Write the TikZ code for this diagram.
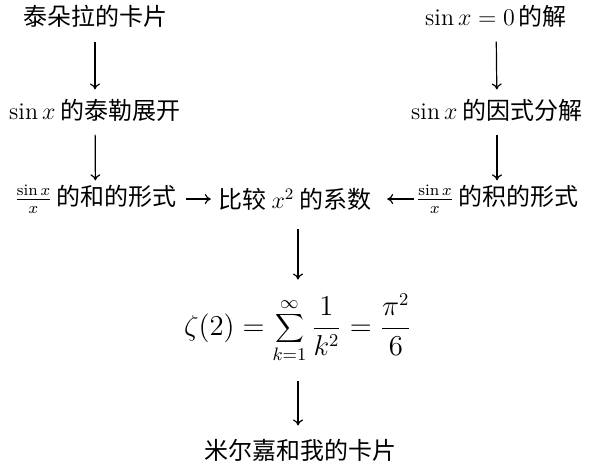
\documentclass[tikz,border=0pt]{standalone}
\usepackage{fontspec}
\newfontfamily\cjk{Noto Sans CJK SC}
\usetikzlibrary{arrows.meta}
\begin{document}
\begin{tikzpicture}[x=0.5pt,y=-0.5pt,
  lbl/.style={inner sep=0pt, font=\cjk\fontsize{12}{14}\selectfont},
  arr/.style={-{To[length=3pt,width=5pt]}, line width=0.6pt}]
\useasboundingbox (0,0) rectangle (597,468);
\node[lbl] (taylorcard) at (95,16) {泰朵拉的卡片};
\node[lbl] (zeros) at (496,16) {$\sin x=0$\,的解};
\node[lbl] (taylor) at (95,110) {$\sin x$ 的泰勒展开};
\node[lbl] (factor) at (497,110) {$\sin x$ 的因式分解};
\node[lbl] (sumform) at (95.5,199) {$\frac{\sin x}{x}$\,的和的形式};
\node[lbl] (compare) at (295,199) {比较 $x^2$ 的系数};
\node[lbl] (prodform) at (497,199) {$\frac{\sin x}{x}$\,的积的形式};
\node[lbl, font=\fontsize{13.5}{16}\selectfont] (zeta) at (298,328) {$\displaystyle \zeta(2)=\sum_{k=1}^{\infty}\frac{1}{k^2}=\frac{\pi^2}{6}$};
\node[lbl] (mcard) at (300,450) {米尔嘉和我的卡片};
\draw[arr, shorten <=7pt, shorten >=4.5pt] (taylorcard) -- (taylor);
\draw[arr, shorten <=6.5pt, shorten >=2pt] (taylor) -- (sumform);
\draw[arr, shorten <=7pt, shorten >=4.5pt] (zeros) -- (factor);
\draw[arr, shorten <=6.5pt, shorten >=2pt] (factor) -- (prodform);
\draw[arr, shorten <=4.5pt, shorten >=3.5pt] (sumform) -- (compare);
\draw[arr, shorten <=1pt, shorten >=7.5pt] (prodform) -- (compare);
\draw[arr, shorten <=9pt, shorten >=7pt] (compare.south -| zeta.north) -- (zeta.north);
\draw[arr, shorten <=9pt, shorten >=6.5pt] (zeta) -- (mcard.north -| zeta.south);
\end{tikzpicture}
\end{document}
